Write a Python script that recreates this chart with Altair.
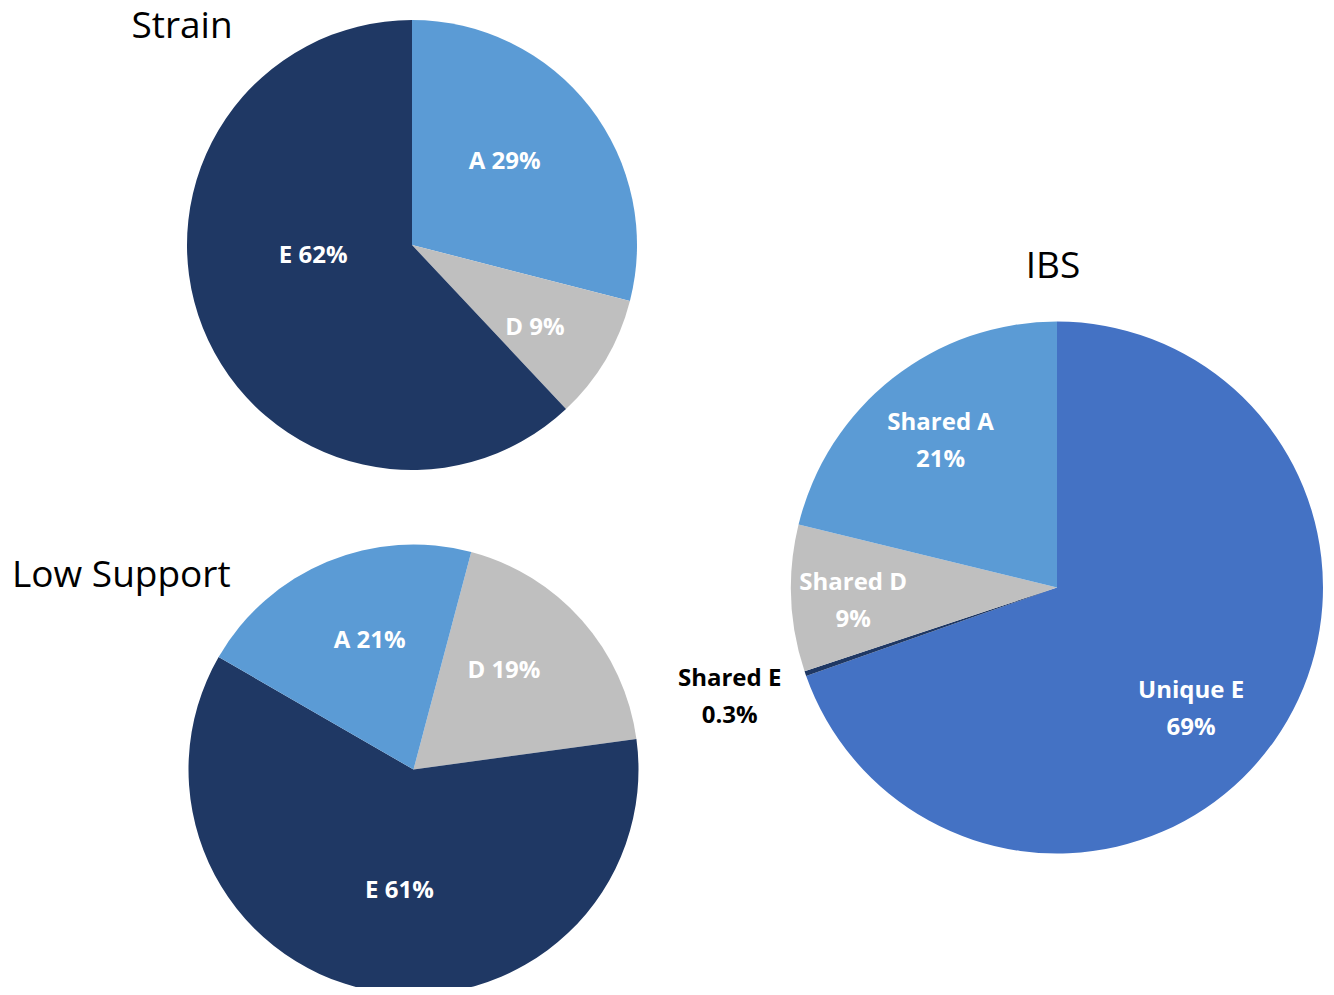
import math
import altair as alt
import pandas as pd

# ---- data ----
strain_cats = ["A", "D", "E"]
strain_vals = [29, 9, 62]
strain_labels = ["A 29%", "D 9%", "E 62%"]

low_cats = ["D", "E", "A"]
low_vals = [18.7, 60.5, 20.8]
low_labels = ["D 19%", "E 61%", "A 21%"]

ibs_cats = ["Unique E", "Shared E", "Shared D", "Shared A"]
ibs_vals = [69.6, 0.3, 8.9, 21.2]
ibs_labels = ["Unique E\n69%", "Shared E\n0.3%", "Shared D\n9%", "Shared A\n21%"]

titles = ["Strain", "Low Support", "IBS"]

# ---- styles ----
color_domain = ["A", "D", "E", "Unique E", "Shared E", "Shared D", "Shared A"]
color_range = ["#5B9BD5", "#BFBFBF", "#1F3864", "#4472C4", "#1F3864", "#BFBFBF", "#5B9BD5"]
FONT = "Open Sans"
color_scale = alt.Scale(domain=color_domain, range=color_range)


def frame(cats, vals, labels):
    return pd.DataFrame({"cat": cats, "value": vals, "label": labels,
                         "idx": list(range(len(cats)))})


def pie_layers(df, cx, cy, r, start_deg, label_r, label_style):
    """label_style: {cat: (radius or None, dx, dy, color)}"""
    start = math.radians(start_deg)
    theta = alt.Theta("value:Q", stack=True,
                      scale=alt.Scale(range=[start, start + 2 * math.pi]))
    base = alt.Chart(df).encode(theta=theta, order=alt.Order("idx:Q"),
                                x=alt.value(cx), y=alt.value(cy))
    layers = [base.mark_arc(outerRadius=r).encode(
        color=alt.Color("cat:N", scale=color_scale, legend=None))]
    for cat in df["cat"]:
        rad, dx, dy, col = label_style.get(cat, (None, 0, 0, "white"))
        layers.append(
            base.transform_calculate(
                lab=f"datum.cat == '{cat}' ? datum.label : ''"
            ).mark_text(radius=rad if rad is not None else label_r, dx=dx, dy=dy,
                        font=FONT, fontSize=24, fontWeight="bold", color=col,
                        lineBreak="\n", lineHeight=37).encode(text="lab:N")
        )
    return layers


def title_layer(t, x, y, align):
    return alt.Chart(pd.DataFrame({"t": [t]})).mark_text(
        font=FONT, fontSize=37, color="black", align=align, baseline="alphabetic"
    ).encode(text="t:N", x=alt.value(x), y=alt.value(y))


layers = []
layers += pie_layers(frame(strain_cats, strain_vals, strain_labels), 404, 237, 225, 0, 130,
                     {"A": (None, -10, -3, "white"), "D": (None, 11, 17, "white"),
                      "E": (None, 22, -37, "white")})
layers += pie_layers(frame(low_cats, low_vals, low_labels), 405.5, 761.5, 225, 14.87, 130,
                     {"A": (None, 6, -8, "white"), "D": (None, -7, -12, "white"),
                      "E": (None, 11, -6, "white")})
layers += pie_layers(frame(ibs_cats, ibs_vals, ibs_labels), 1049, 579.5, 266, 0, 190,
                     {"Shared A": (None, 1, -15, "white"),
                      "Shared D": (None, -14, -12, "white"),
                      "Unique E": (None, -21, -6, "white"),
                      "Shared E": (346, 0, -21, "black")})
layers.append(title_layer(titles[0], 174, 30, "center"))
layers.append(title_layer(titles[1], 4, 579, "left"))
layers.append(title_layer(titles[2], 1045, 270, "center"))

chart = alt.layer(*layers).resolve_scale(theta="independent").properties(
    width=1318, height=979, padding=0,
    autosize=alt.AutoSizeParams(type="none"),
    background="white",
).configure_view(stroke=None)

chart.save("out.html", embed_options={"renderer": "svg", "actions": False})
